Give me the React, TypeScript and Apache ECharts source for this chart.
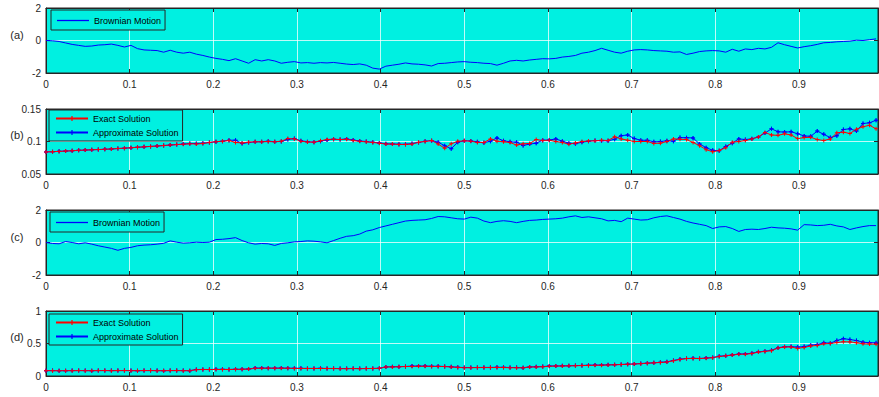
import React, { useEffect, useRef } from 'react';
import * as echarts from 'echarts';

const N = 128;
const TIME: number[] = Array.from({ length: N }, (_, i) => i / N);

const brownianA = [
  0.00, -0.02, -0.06, -0.15, -0.24, -0.30, -0.36, -0.34, -0.28, -0.26, -0.22, -0.30, -0.40, -0.30, -0.50, -0.58,
  -0.60, -0.62, -0.72, -0.60, -0.72, -0.78, -0.72, -0.84, -0.92, -1.02, -1.10, -1.16, -1.24, -1.12, -1.26, -1.40,
  -1.18, -1.26, -1.18, -1.26, -1.40, -1.34, -1.30, -1.38, -1.36, -1.40, -1.36, -1.38, -1.35, -1.40, -1.45, -1.48,
  -1.44, -1.52, -1.70, -1.76, -1.58, -1.52, -1.46, -1.38, -1.44, -1.46, -1.50, -1.57, -1.42, -1.40, -1.36, -1.32,
  -1.30, -1.34, -1.36, -1.40, -1.42, -1.52, -1.40, -1.26, -1.22, -1.26, -1.20, -1.16, -1.12, -1.13, -1.10, -1.02,
  -0.98, -0.92, -0.78, -0.72, -0.62, -0.48, -0.60, -0.72, -0.78, -0.66, -0.58, -0.56, -0.58, -0.62, -0.64, -0.66,
  -0.72, -0.70, -0.86, -0.78, -0.68, -0.64, -0.62, -0.64, -0.72, -0.54, -0.66, -0.52, -0.56, -0.48, -0.52, -0.42,
  -0.14, -0.26, -0.36, -0.46, -0.38, -0.32, -0.24, -0.14, -0.12, -0.08, -0.06, -0.04, 0.02, 0.00, 0.05, 0.10,
];

const exactB = [
  0.0840, 0.0843, 0.0848, 0.0853, 0.0858, 0.0864, 0.0868, 0.0873, 0.0876, 0.0880, 0.0886, 0.0892, 0.0898, 0.0905, 0.0911, 0.0918,
  0.0924, 0.0930, 0.0938, 0.0945, 0.0952, 0.0958, 0.0965, 0.0962, 0.0968, 0.0985, 0.0998, 0.1003, 0.1015, 0.0985, 0.0978, 0.0990,
  0.0995, 0.0995, 0.1000, 0.0995, 0.1005, 0.1045, 0.1040, 0.1005, 0.0992, 0.0990, 0.1010, 0.1032, 0.1035, 0.1030, 0.1035, 0.1015,
  0.1002, 0.0995, 0.0985, 0.0975, 0.0960, 0.0960, 0.0955, 0.0955, 0.0960, 0.0990, 0.1000, 0.1015, 0.0960, 0.0895, 0.0965, 0.1002,
  0.1010, 0.1005, 0.0985, 0.0985, 0.1040, 0.1005, 0.0995, 0.0985, 0.0945, 0.0965, 0.0970, 0.1030, 0.1015, 0.1020, 0.1000, 0.0985,
  0.0958, 0.0978, 0.1000, 0.1008, 0.1010, 0.1020, 0.1015, 0.1072, 0.1040, 0.1020, 0.1000, 0.1000, 0.1000, 0.0970, 0.0975, 0.1000,
  0.1040, 0.1035, 0.1030, 0.0985, 0.0935, 0.0875, 0.0842, 0.0862, 0.0905, 0.0990, 0.1000, 0.1015, 0.1040, 0.1070, 0.1140, 0.1100,
  0.1095, 0.1118, 0.1100, 0.1045, 0.1060, 0.1065, 0.1030, 0.1015, 0.1040, 0.1133, 0.1144, 0.1123, 0.1190, 0.1226, 0.1250, 0.1195,
];

const approxB = [
  0.0840, 0.0843, 0.0849, 0.0852, 0.0858, 0.0864, 0.0868, 0.0872, 0.0876, 0.0880, 0.0885, 0.0892, 0.0897, 0.0904, 0.0910, 0.0918,
  0.0925, 0.0931, 0.0938, 0.0946, 0.0953, 0.0960, 0.0968, 0.0970, 0.0972, 0.0985, 0.0996, 0.1005, 0.1020, 0.1020, 0.0968, 0.0985,
  0.0995, 0.0998, 0.1005, 0.0998, 0.1000, 0.1030, 0.1045, 0.1010, 0.0998, 0.0990, 0.1005, 0.1025, 0.1035, 0.1030, 0.1040, 0.1022,
  0.1008, 0.1000, 0.0990, 0.0978, 0.0965, 0.0962, 0.0958, 0.0956, 0.0970, 0.0985, 0.1005, 0.1012, 0.0990, 0.0935, 0.0888, 0.0990,
  0.1010, 0.1008, 0.0995, 0.0982, 0.1005, 0.1055, 0.1010, 0.0995, 0.0990, 0.0940, 0.0960, 0.0975, 0.1020, 0.1022, 0.1040, 0.1005,
  0.0975, 0.0965, 0.0990, 0.1005, 0.1015, 0.1012, 0.1010, 0.1035, 0.1090, 0.1100, 0.1045, 0.1020, 0.1018, 0.0995, 0.1000, 0.1010,
  0.1005, 0.1060, 0.1058, 0.1055, 0.0962, 0.0905, 0.0865, 0.0858, 0.0925, 0.0975, 0.1040, 0.1030, 0.1042, 0.1070, 0.1130, 0.1195,
  0.1150, 0.1145, 0.1150, 0.1120, 0.1085, 0.1080, 0.1160, 0.1110, 0.1060, 0.1090, 0.1185, 0.1195, 0.1160, 0.1277, 0.1287, 0.1328,
];

const brownianC = [
  0.00, -0.06, -0.08, 0.06, 0.00, -0.08, -0.02, -0.10, -0.20, -0.28, -0.36, -0.48, -0.36, -0.30, -0.20, -0.16,
  -0.14, -0.10, -0.05, 0.10, 0.02, -0.04, -0.02, 0.02, 0.00, 0.02, 0.18, 0.20, 0.24, 0.30, 0.12, -0.02,
  -0.10, -0.06, -0.08, -0.18, -0.06, -0.02, 0.04, 0.06, 0.10, 0.08, 0.04, -0.02, 0.12, 0.26, 0.38, 0.42,
  0.52, 0.70, 0.78, 0.92, 1.02, 1.12, 1.22, 1.32, 1.36, 1.38, 1.40, 1.48, 1.60, 1.58, 1.52, 1.46,
  1.44, 1.56, 1.50, 1.32, 1.22, 1.30, 1.34, 1.30, 1.22, 1.30, 1.36, 1.38, 1.42, 1.44, 1.46, 1.50,
  1.58, 1.64, 1.54, 1.58, 1.52, 1.46, 1.33, 1.36, 1.28, 1.50, 1.44, 1.38, 1.40, 1.52, 1.60, 1.64,
  1.54, 1.44, 1.30, 1.20, 1.12, 1.04, 0.86, 0.96, 0.98, 0.86, 0.68, 0.80, 0.82, 0.80, 0.86, 0.94,
  0.90, 0.88, 0.84, 0.76, 1.10, 1.08, 1.04, 1.06, 1.12, 1.02, 0.96, 0.80, 0.90, 0.98, 1.04, 1.04,
];

const exactD = [
  0.082, 0.082, 0.081, 0.082, 0.082, 0.083, 0.082, 0.082, 0.083, 0.083, 0.082, 0.083, 0.083, 0.082, 0.082, 0.083,
  0.083, 0.082, 0.082, 0.083, 0.083, 0.082, 0.082, 0.098, 0.100, 0.099, 0.100, 0.101, 0.100, 0.102, 0.103, 0.106,
  0.118, 0.119, 0.120, 0.119, 0.120, 0.118, 0.117, 0.116, 0.116, 0.115, 0.116, 0.115, 0.114, 0.113, 0.113, 0.114,
  0.113, 0.114, 0.116, 0.118, 0.138, 0.140, 0.142, 0.145, 0.148, 0.150, 0.150, 0.148, 0.147, 0.145, 0.140, 0.132,
  0.128, 0.128, 0.129, 0.130, 0.129, 0.131, 0.130, 0.128, 0.126, 0.126, 0.138, 0.140, 0.142, 0.150, 0.152, 0.153,
  0.156, 0.158, 0.160, 0.163, 0.165, 0.166, 0.170, 0.172, 0.176, 0.180, 0.184, 0.190, 0.196, 0.202, 0.208, 0.215,
  0.235, 0.255, 0.268, 0.270, 0.268, 0.274, 0.282, 0.300, 0.310, 0.322, 0.335, 0.336, 0.345, 0.368, 0.378, 0.390,
  0.430, 0.445, 0.447, 0.425, 0.440, 0.462, 0.470, 0.495, 0.500, 0.515, 0.526, 0.525, 0.512, 0.495, 0.492, 0.490,
];

const approxD = [
  0.082, 0.083, 0.082, 0.082, 0.083, 0.083, 0.083, 0.082, 0.083, 0.084, 0.083, 0.083, 0.084, 0.083, 0.082, 0.083,
  0.084, 0.083, 0.082, 0.083, 0.084, 0.083, 0.082, 0.100, 0.101, 0.100, 0.102, 0.102, 0.101, 0.103, 0.104, 0.108,
  0.122, 0.122, 0.121, 0.121, 0.122, 0.120, 0.119, 0.118, 0.117, 0.117, 0.118, 0.116, 0.116, 0.115, 0.114, 0.115,
  0.114, 0.115, 0.116, 0.118, 0.140, 0.142, 0.144, 0.147, 0.152, 0.153, 0.152, 0.150, 0.149, 0.147, 0.142, 0.134,
  0.130, 0.130, 0.131, 0.132, 0.132, 0.134, 0.133, 0.131, 0.130, 0.128, 0.140, 0.142, 0.145, 0.153, 0.155, 0.156,
  0.158, 0.160, 0.163, 0.166, 0.168, 0.168, 0.172, 0.174, 0.178, 0.182, 0.186, 0.192, 0.198, 0.204, 0.210, 0.218,
  0.240, 0.258, 0.270, 0.272, 0.270, 0.276, 0.285, 0.303, 0.313, 0.325, 0.338, 0.340, 0.350, 0.372, 0.382, 0.395,
  0.436, 0.450, 0.452, 0.445, 0.452, 0.474, 0.485, 0.510, 0.505, 0.545, 0.575, 0.562, 0.545, 0.520, 0.512, 0.510,
];

const PANEL_LABELS = ['(a)', '(b)', '(c)', '(d)'];
const Y_RANGES = [
  { min: -2, max: 2, interval: 2 },
  { min: 0.05, max: 0.15, interval: 0.05 },
  { min: -2, max: 2, interval: 2 },
  { min: 0, max: 1, interval: 0.5 },
];

const CYAN = '#00F0E1';
const INK = '#262626';
const FONT = "'Liberation Sans', Arial, Helvetica, sans-serif";
const PLUS = 'path://M-1,-4H1V-1H4V1H1V4H-1V1H-4V-1H-1Z';
const X_MAX = 0.9945;
const GRID_TOPS = [8, 109, 210, 311];
const GRID_H = 65;

const pairs = (ys: number[]) => ys.map((v, i) => [TIME[i], v]);

export default function App() {
  const ref = useRef<HTMLDivElement>(null);
  useEffect(() => {
    if (!ref.current) return;
    const chart = echarts.init(ref.current, undefined, { renderer: 'svg' });

    const grids = GRID_TOPS.map((top) => ({
      left: 46,
      right: 1,
      top,
      height: GRID_H,
      show: true,
      backgroundColor: CYAN,
      borderColor: INK,
      borderWidth: 1,
    }));

    const tick = { show: true, inside: true, length: 4, lineStyle: { color: INK, width: 1 } };
    const line = { show: true, onZero: false, lineStyle: { color: INK, width: 1 } };
    const split = { show: true, lineStyle: { color: 'rgba(255,255,255,0.75)', width: 1 } };

    const xAxes: any[] = [];
    const yAxes: any[] = [];
    GRID_TOPS.forEach((_, g) => {
      xAxes.push({
        type: 'value',
        gridIndex: g,
        min: 0,
        max: X_MAX,
        interval: 0.1,
        position: 'bottom',
        axisLine: line,
        axisTick: tick,
        axisLabel: {
          show: true,
          fontSize: 10,
          color: INK,
          fontFamily: FONT,
          margin: 6,
          showMaxLabel: false,
          formatter: (v: number) =>
            Math.abs(v * 10 - Math.round(v * 10)) < 1e-6 ? String(Number(v.toFixed(1))) : '',
        },
        splitLine: split,
      });
      xAxes.push({
        type: 'value',
        gridIndex: g,
        min: 0,
        max: X_MAX,
        interval: 0.1,
        position: 'top',
        axisLine: line,
        axisTick: tick,
        axisLabel: { show: false },
        splitLine: { show: false },
      });
      const r = Y_RANGES[g];
      yAxes.push({
        type: 'value',
        gridIndex: g,
        min: r.min,
        max: r.max,
        interval: r.interval,
        position: 'left',
        axisLine: line,
        axisTick: tick,
        axisLabel: { show: true, fontSize: 10, color: INK, fontFamily: FONT, margin: 5 },
        splitLine: split,
      });
      yAxes.push({
        type: 'value',
        gridIndex: g,
        min: r.min,
        max: r.max,
        interval: r.interval,
        position: 'right',
        axisLine: line,
        axisTick: tick,
        axisLabel: { show: false },
        splitLine: { show: false },
      });
    });

    const brownian = (name: string, data: number[], g: number) => ({
      type: 'line',
      name,
      xAxisIndex: 2 * g,
      yAxisIndex: 2 * g,
      data: pairs(data),
      symbol: 'none',
      lineStyle: { color: '#0000FF', width: 1 },
      itemStyle: { color: '#0000FF' },
      clip: true,
    });

    const marked = (name: string, data: number[], g: number, color: string, size: number) => ({
      type: 'line',
      name,
      xAxisIndex: 2 * g,
      yAxisIndex: 2 * g,
      data: pairs(data),
      symbol: PLUS,
      symbolSize: size,
      showSymbol: true,
      lineStyle: { color, width: 1 },
      itemStyle: { color },
      clip: true,
    });

    const marksOnly = (data: number[], g: number, color: string, size: number) => ({
      type: 'scatter',
      name: 'approxMarks' + g,
      xAxisIndex: 2 * g,
      yAxisIndex: 2 * g,
      data: pairs(data),
      symbol: PLUS,
      symbolSize: size,
      itemStyle: { color },
      clip: true,
    });

    const series = [
      brownian('Brownian Motion', brownianA, 0),
      marked('Approximate Solution', approxB, 1, '#0000FF', 4),
      marked('Exact Solution', exactB, 1, '#FF0000', 4),
      marksOnly(approxB, 1, '#0000FF', 4),
      brownian('Brownian Motion', brownianC, 2),
      marked('Approximate Solution', approxD, 3, '#0000FF', 4),
      marked('Exact Solution', exactD, 3, '#FF0000', 4),
      marksOnly(approxD, 3, '#0000FF', 4),
    ];

    const legendBase = {
      orient: 'vertical',
      backgroundColor: CYAN,
      borderColor: INK,
      borderWidth: 1,
      borderRadius: 0,
      padding: [3, 4, 3, 6],
      itemWidth: 32,
      itemHeight: 6,
      itemGap: 3,
      selectedMode: false,
      textStyle: { fontSize: 9, color: '#000', fontFamily: FONT, lineHeight: 11 },
    };
    const bmItem = { name: 'Brownian Motion', icon: 'rect', itemStyle: { color: '#0000FF' } };
    const bmLegend = { ...legendBase, itemHeight: 1.3, padding: [5, 4, 4, 6] };

    const legends = [
      { ...bmLegend, left: 51, top: 10, data: [bmItem] },
      { ...legendBase, left: 49, top: 110, data: ['Exact Solution', 'Approximate Solution'] },
      { ...bmLegend, left: 50, top: 212, data: [bmItem] },
      { ...legendBase, left: 49, top: 314, data: ['Exact Solution', 'Approximate Solution'] },
    ];

    const labelYs = [35, 135, 237, 337];
    const graphics = PANEL_LABELS.map((t, i) => ({
      type: 'text',
      x: 17,
      y: labelYs[i],
      style: {
        text: t,
        align: 'center',
        verticalAlign: 'middle',
        fontSize: 11,
        fill: INK,
        fontFamily: FONT,
      },
    }));

    chart.setOption({
      animation: false,
      backgroundColor: '#ffffff',
      textStyle: { fontFamily: FONT },
      grid: grids,
      xAxis: xAxes,
      yAxis: yAxes,
      legend: legends,
      series,
      graphic: graphics,
    });
    return () => chart.dispose();
  }, []);

  return (
    <div
      ref={ref}
      style={{ position: 'fixed', left: 0, top: 0, width: 879, height: 397, background: '#fff' }}
    />
  );
}
